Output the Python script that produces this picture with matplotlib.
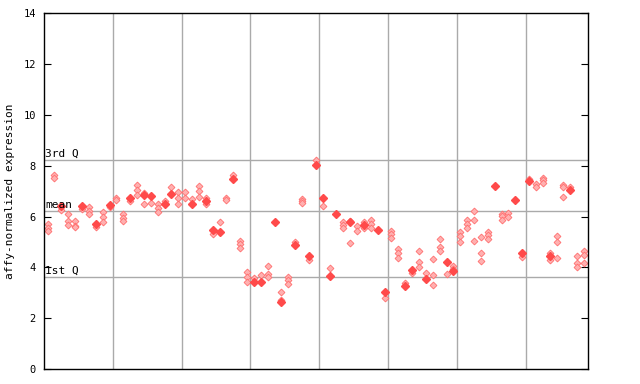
import matplotlib
matplotlib.use('Agg')
import matplotlib.pyplot as plt

# valores por muestra (grises = replicas, rojo = punto lleno)
replicas = [
    [5.7, 5.55, 5.45], [7.62, 7.52], [6.27], [6.10, 5.84, 5.68], [5.81, 5.65, 5.6],
    [6.30], [6.39, 6.24, 6.10], [5.59], [6.20, 5.98, 5.77], [6.36],
    [6.73, 6.67], [6.11, 5.94, 5.81], [6.60], [7.23, 7.05, 6.86], [6.93, 6.49],
    [6.53], [6.49, 6.34, 6.20], [6.60], [7.16], [6.97, 6.73, 6.49],
    [6.97, 6.73], [6.70], [7.20, 6.99, 6.77], [6.73, 6.49], [5.31],
    [5.78], [6.73, 6.67], [7.62], [5.05, 4.92, 4.78], [3.81, 3.62, 3.44],
    [3.57], [3.71], [4.06, 3.73, 3.62], [], [3.03, 2.72],
    [3.64, 3.51, 3.34], [5.02], [6.70, 6.60, 6.52], [4.30], [8.24],
    [6.43], [3.97], [], [5.78, 5.68, 5.57], [5.84, 4.96],
    [5.64, 5.44], [5.77, 5.56], [5.88, 5.72, 5.56], [], [2.81],
    [5.44, 5.31, 5.15], [4.73, 4.56, 4.39], [3.40], [3.80], [4.64, 4.23, 4.03],
    [3.80], [4.32, 3.71, 3.31], [5.11, 4.82, 4.63], [3.75], [4.05, 3.92],
    [5.39, 5.22, 5.00], [5.88, 5.71, 5.55], [6.23, 5.86, 5.05], [5.19, 4.56, 4.26], [5.39, 5.28, 5.11],
    [], [6.11, 6.01, 5.88], [6.14, 5.98], [], [4.41],
    [7.49], [7.28, 7.15], [7.54, 7.44, 7.32], [4.56, 4.30], [5.22, 5.02, 4.36],
    [7.23, 7.15, 6.77], [7.15], [4.46, 4.19, 4.03], [4.65, 4.50, 4.19],
]
solidos = [
    None, None, 6.42, None, None, 6.43, None, 5.72, None, 6.47,
    None, None, 6.73, None, 6.86, 6.80, None, 6.49, 6.90, None,
    None, 6.51, None, 6.60, 5.49, 5.38, None, 7.47, None, None,
    3.44, 3.44, None, 5.78, 2.62, None, 4.89, None, 4.46, 8.05,
    6.73, 3.68, 6.09, None, 5.77, None, 5.69, None, 5.47, 3.05,
    None, None, 3.25, 3.89, None, 3.55, None, None, 4.23, 3.85,
    None, None, None, None, None, 7.19, None, None, 6.65, 4.56,
    7.39, None, None, 4.46, None, None, 7.03, None, None,
]
cuartiles = {'1st Q': 3.62, 'mean': 6.22, '3rd Q': 8.23}
yticks = [0, 2, 4, 6, 8, 10, 12, 14]

fig = plt.figure(figsize=(6.4, 3.84), dpi=100)
ax = fig.add_axes([0.069, 0.039, 0.849, 0.926])

for nombre, val in cuartiles.items():
    ax.axhline(val, color='#aaaaaa', lw=1, zorder=1)
    ax.text(0.15, val + 0.06, nombre, fontsize=8, family='DejaVu Sans Mono',
            va='bottom', ha='left', zorder=4)
for g in range(10, 80, 10):
    ax.axvline(g, color='#aaaaaa', lw=1, zorder=1)

xs, ys = [], []
for i, vals in enumerate(replicas):
    for v in vals:
        xs.append(i + 0.5)
        ys.append(v)
ax.plot(xs, ys, 'D', ms=3.5, color='#ffb0b0', mec='#ff6e6e', mew=0.6,
        ls='none', zorder=2)

sx = [i + 0.5 for i, v in enumerate(solidos) if v is not None]
sy = [v for v in solidos if v is not None]
ax.plot(sx, sy, 'D', ms=3.8, color='#ff4a4a', ls='none', zorder=3)

ax.set_xlim(0, 79)
ax.set_ylim(0, 14)
ax.set_xticks([])
ax.set_yticks(yticks)
ax.set_yticklabels([str(t) for t in yticks], family='DejaVu Sans Mono', fontsize=7.5)
ax.tick_params(axis='y', direction='in', length=5, right=True, pad=6)
ax.set_ylabel('affy-normalized expression', family='DejaVu Sans Mono', fontsize=8,
              labelpad=6)
for s in ax.spines.values():
    s.set_linewidth(1)

plt.savefig('out.png', dpi=100)
